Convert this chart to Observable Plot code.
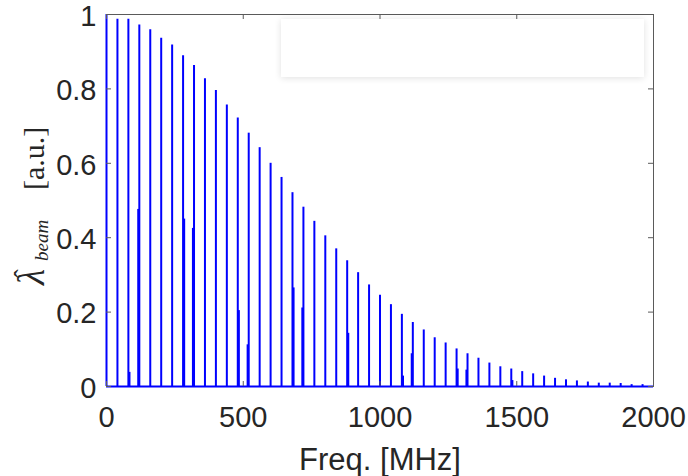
<!DOCTYPE html>
<html>
<head>
<meta charset="utf-8">
<script src="https://cdn.jsdelivr.net/npm/d3@7"></script>
<script src="https://cdn.jsdelivr.net/npm/@observablehq/plot@0.6"></script>
<style>
  html, body { margin: 0; padding: 0; background: #fff; }
</style>
</head>
<body>
<div id="chart"></div>
<script>
// Main harmonic lines (MHz) and their amplitudes (a.u.)
const harmonicFreq = [0, 40, 80, 120, 160, 200, 240, 280, 320, 360,
  400, 440, 480, 520, 560, 600, 640, 680, 720, 760,
  800, 840, 880, 920, 960, 1000, 1040, 1080, 1120, 1160,
  1200, 1240, 1280, 1320, 1360, 1400, 1440, 1480, 1520, 1560,
  1600, 1640, 1680, 1720, 1760, 1800, 1840, 1880, 1920, 1960];
const harmonicAmp = [1.0, 0.987, 0.987, 0.972, 0.959, 0.936, 0.918, 0.889, 0.863, 0.827,
  0.796, 0.757, 0.722, 0.681, 0.642, 0.600, 0.562, 0.521, 0.482, 0.444,
  0.405, 0.370, 0.338, 0.306, 0.273, 0.245, 0.220, 0.194, 0.172, 0.152,
  0.131, 0.117, 0.101, 0.088, 0.076, 0.063, 0.053, 0.047, 0.040, 0.034,
  0.028, 0.022, 0.018, 0.015, 0.012, 0.009, 0.009, 0.008, 0.005, 0.005];

// Secondary (side) lines
const sideFreq = [84, 116, 284, 316, 484, 516, 684, 716, 884, 1084, 1116, 1284, 1316, 1484];
const sideAmp  = [0.038, 0.476, 0.45, 0.425, 0.204, 0.112, 0.265, 0.211, 0.143, 0.028, 0.088, 0.047, 0.044, 0.016];

// Axis ticks
const xTicks = [0, 500, 1000, 1500, 2000];
const xTickLabels = ["0", "500", "1000", "1500", "2000"];
const yTicks = [0, 0.2, 0.4, 0.6, 0.8, 1];
const yTickLabels = ["0", "0.2", "0.4", "0.6", "0.8", "1"];

const mainLines = harmonicFreq.map((f, i) => ({f, a: harmonicAmp[i]}));
const sideLines = sideFreq.map((f, i) => ({f, a: sideAmp[i]}));

const W = 688, H = 476;
const mL = 106, mR = 35, mT = 14, mB = 90;
const plotW = W - mL - mR, plotH = H - mT - mB;
const axisColor = "#5a5a5a";
const textColor = "#262626";
const blue = "#0000ff";
const tick = 5;

const chart = Plot.plot({
  width: W,
  height: H,
  marginLeft: mL, marginRight: mR, marginTop: mT, marginBottom: mB,
  style: {fontFamily: "'Liberation Sans', Arial, Helvetica, sans-serif", fontSize: "29px", color: textColor, background: "#fff", overflow: "visible"},
  x: {domain: [0, 2000]},
  y: {domain: [0, 1]},
  marks: [
    Plot.frame({stroke: axisColor, strokeWidth: 1}),
    Plot.ruleX(sideLines, {x: "f", y1: 0, y2: "a", stroke: blue, strokeWidth: 2}),
    Plot.ruleX(mainLines, {x: "f", y1: 0, y2: "a", stroke: blue, strokeWidth: 2}),
    Plot.ruleY([0], {stroke: blue, strokeWidth: 2.2}),
    // inward tick marks on all four sides
    Plot.tickX(xTicks, {x: d => d, stroke: axisColor, insetTop: plotH - tick}),
    Plot.tickX(xTicks, {x: d => d, stroke: axisColor, insetBottom: plotH - tick}),
    Plot.tickY(yTicks, {y: d => d, stroke: axisColor, insetRight: plotW - tick}),
    Plot.tickY(yTicks, {y: d => d, stroke: axisColor, insetLeft: plotW - tick}),
    Plot.axisX({ticks: xTicks, tickSize: 0, tickPadding: 20, label: null, fill: textColor,
      tickFormat: (d) => xTickLabels[xTicks.indexOf(d)]}),
    Plot.axisY({ticks: yTicks, tickSize: 0, tickPadding: 10, dy: 2, label: null, fill: textColor,
      tickFormat: (d) => yTickLabels[yTicks.indexOf(d)]}),
    Plot.text(["Freq. [MHz]"], {frameAnchor: "bottom", dy: 83, text: d => d, fontSize: 31, fill: textColor, lineAnchor: "bottom"})
  ]
});

document.getElementById("chart").appendChild(chart);

// Decorations: empty legend box with soft shadow, and LaTeX-style y label
const svg = d3.select(chart);
const defs = svg.insert("defs", ":first-child");
defs.append("filter").attr("id", "legshadow")
  .attr("x", "-20%").attr("y", "-50%").attr("width", "140%").attr("height", "200%")
  .append("feGaussianBlur").attr("stdDeviation", 3.5);
const lx = 281, ly = 19, lw = 363, lh = 58;
svg.append("rect").attr("x", lx).attr("y", ly + 1).attr("width", lw).attr("height", lh)
  .attr("fill", "#000").attr("opacity", 0.12).attr("filter", "url(#legshadow)");
svg.append("rect").attr("x", lx).attr("y", ly).attr("width", lw).attr("height", lh)
  .attr("fill", "#fff");

const serif = "'Liberation Serif', 'DejaVu Serif', serif";
const yl = svg.append("g")
  .attr("transform", "translate(44,286) rotate(-90)")
  .attr("text-anchor", "start")
  .attr("font-family", serif)
  .attr("fill", textColor);
yl.append("text").attr("x", 1).attr("y", 0).attr("font-size", 37).attr("font-style", "italic").text("\u03BB");
yl.append("text").attr("x", 8).attr("y", -12).attr("font-size", 26).text("\u02C6");
yl.append("text").attr("x", 25).attr("y", 4).attr("font-size", 19).attr("font-style", "italic").text("beam");
yl.append("text").attr("x", 96).attr("y", 0).attr("font-size", 30).text("[a.u.]");
</script>
</body>
</html>
